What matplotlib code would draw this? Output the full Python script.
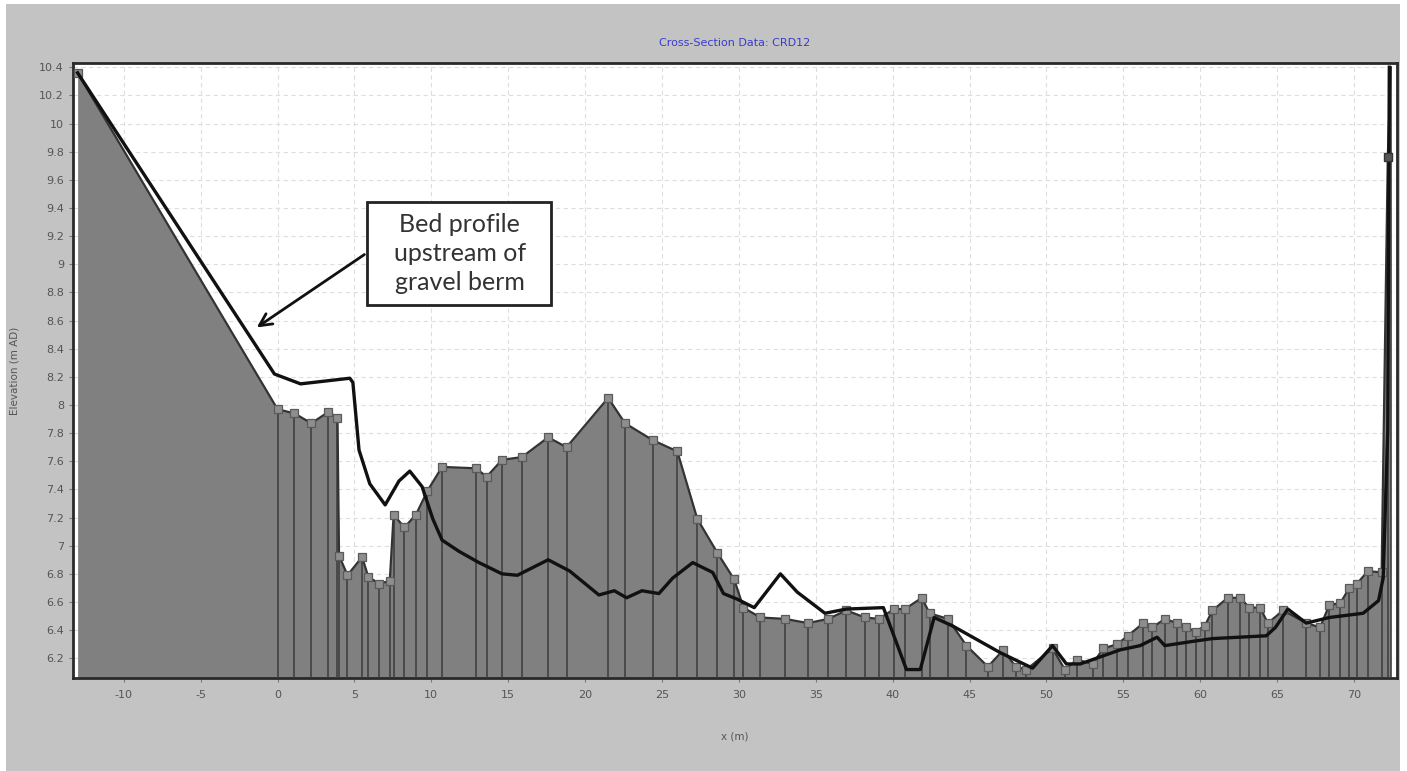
import numpy as np
import matplotlib
matplotlib.use("Agg")
import matplotlib.pyplot as plt
from matplotlib.patches import Rectangle

plt.rcParams["axes.unicode_minus"] = False

# surveyed cross-section (grey series with square markers)
sect_x = [-13.0, 0.0, 1.1, 2.2, 3.3, 3.9, 4.0, 4.55, 5.5, 5.9, 6.6, 7.3, 7.55, 8.25,
          9.0, 9.75, 10.7, 12.9, 13.6, 14.6, 15.9, 17.6, 18.8, 21.5, 22.6, 24.4, 26.0,
          27.3, 28.6, 29.7, 30.3, 31.4, 33.0, 34.5, 35.8, 37.0, 38.2, 39.1, 40.1, 40.8,
          41.9, 42.4, 43.6, 44.8, 46.2, 47.2, 48.0, 48.7, 50.4, 51.2, 52.0, 53.0, 53.7,
          54.6, 55.3, 56.3, 56.9, 57.7, 58.5, 59.1, 59.7, 60.3, 60.8, 61.8, 62.6, 63.2,
          63.9, 64.4, 65.4, 66.9, 67.8, 68.4, 69.1, 69.7, 70.2, 70.9, 71.8, 72.2, 72.4]
sect_z = [10.36, 7.97, 7.94, 7.87, 7.95, 7.91, 6.93, 6.79, 6.92, 6.78, 6.73, 6.75, 7.22, 7.13,
          7.22, 7.39, 7.56, 7.55, 7.49, 7.61, 7.63, 7.77, 7.70, 8.05, 7.87, 7.75, 7.67,
          7.19, 6.95, 6.76, 6.56, 6.49, 6.48, 6.45, 6.48, 6.54, 6.49, 6.48, 6.55, 6.55,
          6.63, 6.52, 6.48, 6.29, 6.14, 6.26, 6.14, 6.12, 6.27, 6.12, 6.19, 6.16, 6.27,
          6.30, 6.36, 6.45, 6.42, 6.48, 6.45, 6.42, 6.39, 6.43, 6.54, 6.63, 6.63, 6.56,
          6.56, 6.45, 6.54, 6.45, 6.42, 6.58, 6.59, 6.70, 6.73, 6.82, 6.81, 9.76, 10.4]

# bed profile upstream of gravel berm (black line)
bed_x = [-13.0, -0.2, 1.5, 4.7, 4.9, 5.3, 6.0, 7.0, 7.9, 8.6, 9.4, 10.1, 10.7, 11.8, 13.1,
         14.6, 15.6, 17.6, 19.0, 20.9, 21.9, 22.7, 23.7, 24.8, 25.7, 27.0, 28.3, 29.0,
         29.9, 31.0, 32.7, 33.8, 35.6, 37.0, 39.4, 40.9, 41.8, 42.7, 43.9, 47.0, 49.1,
         50.4, 51.3, 52.2, 54.8, 56.1, 57.2, 57.7, 59.5, 60.8, 64.3, 64.9, 65.7, 66.9,
         68.4, 70.6, 71.6, 71.9, 72.2, 72.3]
bed_z = [10.36, 8.22, 8.15, 8.19, 8.16, 7.68, 7.44, 7.29, 7.46, 7.53, 7.42, 7.19, 7.04, 6.96,
         6.88, 6.80, 6.79, 6.90, 6.82, 6.65, 6.68, 6.63, 6.68, 6.66, 6.77, 6.88, 6.81, 6.66,
         6.62, 6.56, 6.80, 6.67, 6.52, 6.55, 6.56, 6.12, 6.12, 6.49, 6.43, 6.24, 6.13,
         6.29, 6.16, 6.16, 6.26, 6.29, 6.35, 6.29, 6.32, 6.34, 6.36, 6.42, 6.55, 6.45,
         6.49, 6.52, 6.61, 6.77, 7.82, 10.4]

x_ticks = [-10, -5, 0, 5, 10, 15, 20, 25, 30, 35, 40, 45, 50, 55, 60, 65, 70]
y_ticks = [6.2, 6.4, 6.6, 6.8, 7, 7.2, 7.4, 7.6, 7.8, 8, 8.2, 8.4, 8.6, 8.8, 9,
           9.2, 9.4, 9.6, 9.8, 10, 10.2, 10.4]
y_tick_labels = [f"{v:g}" for v in y_ticks]

W, H = 1407, 771
fig = plt.figure(figsize=(W / 100, H / 100), dpi=100, facecolor="white")

# grey chart panel inside a thin white border (behind the axes)
fig.patches.append(Rectangle((6 / W, 0), (1400 - 6) / W, (H - 4) / H,
                             transform=fig.transFigure, facecolor="#c3c3c3",
                             edgecolor="none", zorder=-10))

ax = fig.add_axes([73 / W, 1 - 678 / H, (1397 - 73) / W, (678 - 63) / H])
ax.set_facecolor("white")
ymin = 6.06
ax.set_xlim(-13.3, 72.8)
ax.set_ylim(ymin, 10.43)

ax.grid(True, color="#dedede", linestyle=(0, (4, 3)), linewidth=0.8, zorder=0)

# grey section: fill, vertical drop lines, outline and squares
ax.fill_between(sect_x, sect_z, ymin, color="#808080", linewidth=0, zorder=2)
ax.vlines(sect_x[1:], ymin, sect_z[1:], color="#3c3c3c", linewidth=1.1, zorder=3)
ax.plot(sect_x, sect_z, color="#333333", linewidth=1.6, zorder=4)
ax.plot(sect_x[:-2], sect_z[:-2], linestyle="none", marker="s", markersize=5.5,
        markerfacecolor="#8e8e8e", markeredgecolor="#5a5a5a", markeredgewidth=0.9,
        zorder=5)

# black bed profile line
ax.plot(bed_x, bed_z, color="#111111", linewidth=2.4, zorder=7, solid_joinstyle="round")

# right-bank survey point sits on top of the steep line
ax.plot(sect_x[-2:-1], sect_z[-2:-1], linestyle="none", marker="s", markersize=6,
        markerfacecolor="#555555", markeredgecolor="#333333", zorder=8)

ax.set_xticks(x_ticks)
ax.set_yticks(y_ticks)
ax.set_yticklabels(y_tick_labels)
ax.tick_params(axis="both", labelsize=8, labelcolor="#555555", color="#777777",
               length=3, width=0.8, direction="out")
ax.tick_params(axis="x", pad=6)
for s in ax.spines.values():
    s.set_color("#2a2a2a")
    s.set_linewidth(2)

ax.set_xlabel("x (m)", fontsize=7.5, color="#555555", labelpad=22)
ax.set_ylabel("Elevation (m AD)", fontsize=7.5, color="#555555", labelpad=14)
ax.set_title("Cross-Section Data: CRD12", fontsize=8, color="#3b3bcc", pad=12)

# annotation box and arrow
ax.add_patch(Rectangle((5.8, 8.71), 12.0, 0.73, facecolor="white", edgecolor="#222222",
                       linewidth=2, zorder=8))
ax.text(11.85, 9.075, "Bed profile\nupstream of\ngravel berm", ha="center", va="center",
        fontsize=18, family="Lato", color="#333333", linespacing=1.3, zorder=9)
ax.annotate("", xy=(-1.5, 8.54), xytext=(5.8, 9.08),
            arrowprops=dict(arrowstyle="->", color="#111111", lw=2,
                            mutation_scale=22), zorder=9)

fig.savefig("out.png", dpi=100, facecolor=fig.get_facecolor())
